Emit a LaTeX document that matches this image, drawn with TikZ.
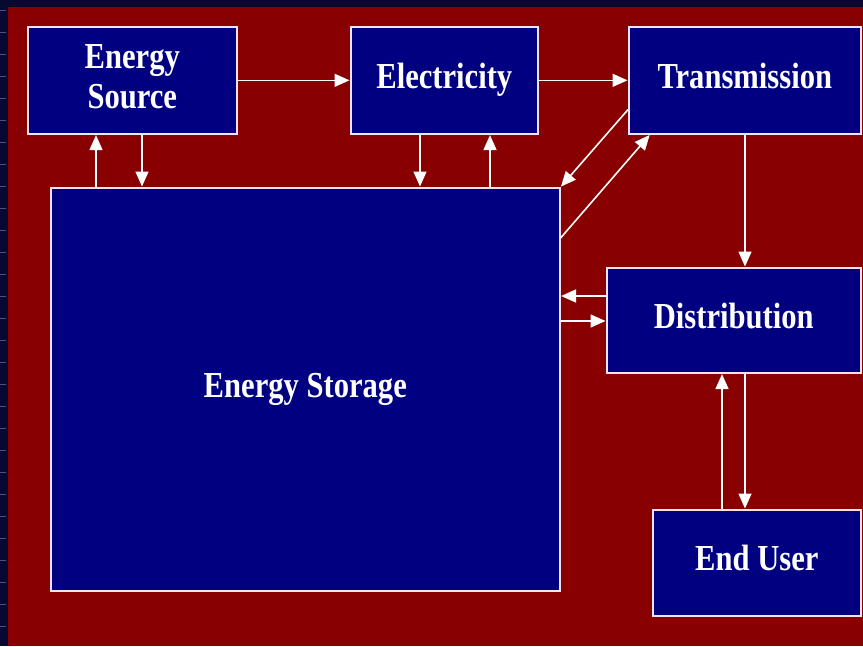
\documentclass[tikz,border=0pt]{standalone}
\usepackage{fontspec}
\setmainfont{Liberation Serif}
\usetikzlibrary{arrows.meta,calc}
\definecolor{bgred}{RGB}{136,0,0}
\definecolor{boxnavy}{RGB}{0,0,128}
\definecolor{stripnavy}{RGB}{8,8,48}
\definecolor{tickblue}{RGB}{70,85,135}
\definecolor{edgewhite}{RGB}{242,228,238}
\newcommand{\blbl}[1]{\scalebox{1.02}[1.22]{\begin{tabular}{@{}c@{}}#1\end{tabular}}}
\tikzset{
  blk/.style={draw=edgewhite, line width=1.6pt, fill=boxnavy, anchor=north west,
    text=white, font=\fontsize{30}{33}\selectfont\bfseries, inner sep=0pt},
  arr/.style={draw=white, line width=1.6pt, -{Triangle[length=15pt,width=13pt]}, shorten >=0.5pt}
}
\begin{document}
\begin{tikzpicture}[x=1pt,y=-1pt]
\useasboundingbox (0,0) rectangle (863,646);
\fill[stripnavy] (0,0) rectangle (863,646);
\fill[bgred] (8,7) rectangle (863,646);
\foreach \k in {0,...,29} {\draw[tickblue, line width=1pt] (0,{10+22*\k}) -- (6,{10+22*\k});}
% boxes
\node[blk, minimum width=209, minimum height=107] (es) at (27,26) {\blbl{Energy\\Source}};
\node[blk, minimum width=187, minimum height=107] (el) at (350,26) {\blbl{Electricity}};
\node[blk, minimum width=232, minimum height=107] (tr) at (628,26) {\blbl{Transmission}};
\node[blk, minimum width=509, minimum height=403] (st) at (50,187) {\blbl{Energy Storage}};
\node[blk, minimum width=254, minimum height=105] (di) at (606,267) {\blbl{Distribution}};
\node[blk, minimum width=208, minimum height=106] (eu) at (652,509) {\blbl{End User}};
% guide coordinates
\coordinate (xa) at (96,0);
\coordinate (xb) at (142,0);
\coordinate (xc) at (420,0);
\coordinate (xd) at (490,0);
\coordinate (xe) at (745,0);
\coordinate (xf) at (722,0);
\coordinate (ya) at (0,296);
\coordinate (yb) at (0,321);
% connectors
\draw[arr] (es.east) -- (el.west);
\draw[arr] (el.east) -- (tr.west);
\draw[arr] (xa |- st.north) -- (xa |- es.south);
\draw[arr] (xb |- es.south) -- (xb |- st.north);
\draw[arr] (xc |- el.south) -- (xc |- st.north);
\draw[arr] (xd |- st.north) -- (xd |- el.south);
\draw[arr] ([yshift=25pt]tr.south west) -- (st.north east);
\draw[arr] ([yshift=-51pt]st.north east) -- ([xshift=22pt]tr.south west);
\draw[arr] (xe |- tr.south) -- (xe |- di.north);
\draw[arr] (ya -| di.west) -- (ya -| st.east);
\draw[arr] (yb -| st.east) -- (yb -| di.west);
\draw[arr] (xf |- eu.north) -- (xf |- di.south);
\draw[arr] (xe |- di.south) -- (xe |- eu.north);
\end{tikzpicture}
\end{document}
